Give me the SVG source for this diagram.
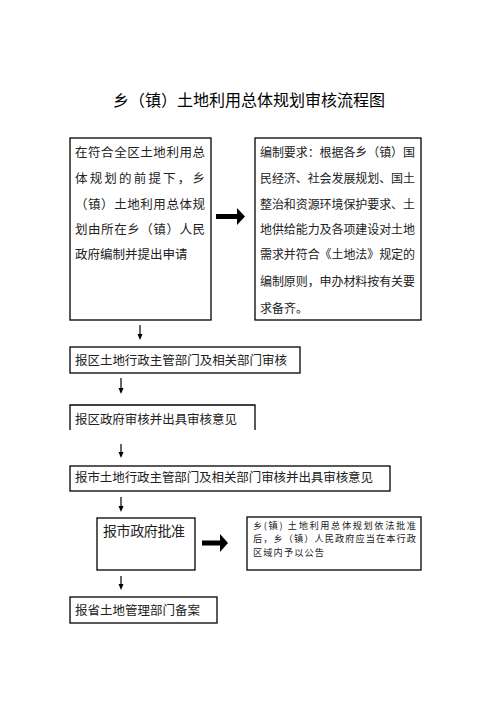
<svg xmlns="http://www.w3.org/2000/svg" width="496" height="702" viewBox="0 0 496 702">
<style>
.box{fill:none;stroke:#000;stroke-width:1.3}
.t{font-family:"Noto Sans CJK SC","Noto Sans CJK JP",sans-serif;fill:#222}
.f12{font-size:12px}
.f13{font-size:12.5px}
.f14{font-size:14px}
.f10{font-size:9.2px}
.title{font-size:16px;fill:#000}
.ln{stroke:#000;stroke-width:1.2;fill:none}
.thick{fill:#000}
</style>
<rect width="496" height="702" fill="#fff"/>
<text class="t title" x="113" y="106" textLength="272" lengthAdjust="spacingAndGlyphs">乡（镇）土地利用总体规划审核流程图</text>

<g id="node-apply">
<rect class="box" x="70" y="138" width="141" height="182"/>
<text class="t f13" x="75" y="156.5" textLength="130" lengthAdjust="spacing">在符合全区土地利用总</text>
<text class="t f13" x="75" y="182.5" textLength="130" lengthAdjust="spacing">体规划的前提下，乡</text>
<text class="t f13" x="75" y="208.5" textLength="130" lengthAdjust="spacing">（镇）土地利用总体规</text>
<text class="t f13" x="75" y="234" textLength="130" lengthAdjust="spacing">划由所在乡（镇）人民</text>
<text class="t f13" x="75" y="259">政府编制并提出申请</text>
</g>

<g id="node-requirements">
<rect class="box" x="255" y="138" width="166" height="182"/>
<text class="t f12" x="260" y="156.5" textLength="155" lengthAdjust="spacing">编制要求：根据各乡（镇）国</text>
<text class="t f12" x="260" y="183" textLength="155" lengthAdjust="spacing">民经济、社会发展规划、国土</text>
<text class="t f12" x="260" y="208.5" textLength="155" lengthAdjust="spacing">整治和资源环境保护要求、土</text>
<text class="t f12" x="260" y="234" textLength="155" lengthAdjust="spacing">地供给能力及各项建设对土地</text>
<text class="t f12" x="260" y="259" textLength="155" lengthAdjust="spacing">需求并符合《土地法》规定的</text>
<text class="t f12" x="260" y="286" textLength="155" lengthAdjust="spacing">编制原则，申办材料按有关要</text>
<text class="t f12" x="260" y="312.5">求备齐。</text>
</g>

<g id="node-district-dept">
<rect class="box" x="70" y="347" width="230" height="26"/>
<text class="t f13" x="75" y="365" textLength="212" lengthAdjust="spacing">报区土地行政主管部门及相关部门审核</text>
</g>

<g id="node-district-gov">
<path class="box" d="M70,430 L70,405 L255,405 L255,430"/>
<text class="t f13" x="75" y="424" textLength="162" lengthAdjust="spacing">报区政府审核并出具审核意见</text>
</g>

<g id="node-city-dept">
<rect class="box" x="70" y="466" width="320" height="25"/>
<text class="t f13" x="75" y="482" textLength="298" lengthAdjust="spacing">报市土地行政主管部门及相关部门审核并出具审核意见</text>
</g>

<g id="node-city-gov">
<rect class="box" x="97" y="518" width="98" height="52"/>
<text class="t f14" x="103" y="536" textLength="82" lengthAdjust="spacing">报市政府批准</text>
</g>

<g id="node-announce">
<rect class="box" x="247" y="517" width="174" height="53"/>
<text class="t f10" x="253" y="528.5" textLength="163" lengthAdjust="spacing">乡(镇) 土地利用总体规划依法批准</text>
<text class="t f10" x="253" y="542" textLength="163" lengthAdjust="spacing">后，乡（镇）人民政府应当在本行政</text>
<text class="t f10" x="253" y="555.5" textLength="71" lengthAdjust="spacing">区域内予以公告</text>
</g>

<g id="node-province">
<rect class="box" x="70" y="597" width="147" height="26"/>
<text class="t f13" x="75" y="615" textLength="125" lengthAdjust="spacing">报省土地管理部门备案</text>
</g>

<g id="connectors">
<path class="thick" d="M216,214 L237,214 L237,208 L245,216.5 L237,225 L237,219 L216,219 Z"/>
<path class="thick" d="M202,540.5 L220,540.5 L220,534 L228,543 L220,552 L220,545.5 L202,545.5 Z"/>
<g class="ln">
<line x1="140" y1="325" x2="140" y2="335"/>
<line x1="121" y1="378" x2="121" y2="389"/>
<line x1="121" y1="444" x2="121" y2="453"/>
<line x1="121" y1="497" x2="121" y2="507"/>
<line x1="121" y1="576" x2="121" y2="585"/>
</g>
<g fill="#000">
<path d="M137.5,334 L142.5,334 L140,340 Z"/>
<path d="M118.5,388 L123.5,388 L121,394 Z"/>
<path d="M118.5,452 L123.5,452 L121,458 Z"/>
<path d="M118.5,506 L123.5,506 L121,512 Z"/>
<path d="M118.5,584 L123.5,584 L121,590 Z"/>
</g>
</g>
</svg>
